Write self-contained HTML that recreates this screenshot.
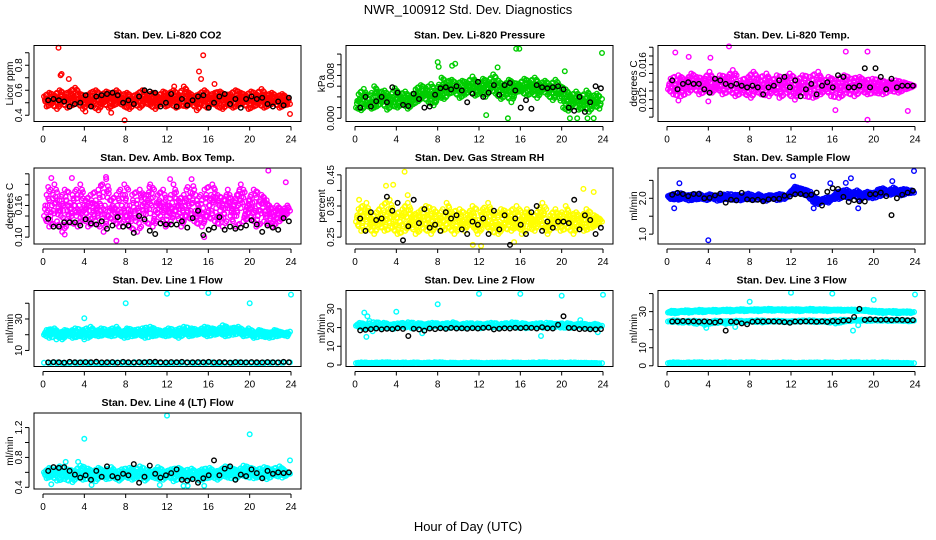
<!DOCTYPE html>
<html><head><meta charset="utf-8">
<style>
html,body{margin:0;padding:0;background:#fff;}
svg{display:block;font-family:"Liberation Sans",Arial,sans-serif;}
</style></head>
<body>
<svg id="c" width="936" height="540" viewBox="0 0 936 540" xmlns="http://www.w3.org/2000/svg">
<text x="468" y="14" text-anchor="middle" font-size="13">NWR_100912  Std. Dev. Diagnostics</text>
<text x="468" y="531" text-anchor="middle" font-size="13">Hour of Day (UTC)</text>
</svg>
<script>
// ---- data ----
const hourTicks = [0,4,8,12,16,20,24];

const co2Cloud = [0.55,0.47,0.58,0.49,0.56,0.45,0.6,0.5,0.57,0.46,0.59,0.48,0.62,0.5,0.57,0.45,0.55,0.49,0.58,0.47,0.6,0.44,0.56,0.5,0.59,0.46,0.57,0.48,0.6,0.5,0.56,0.47,0.58,0.45,0.55,0.49,0.57,0.46,0.6,0.5,0.56,0.48,0.58,0.45,0.55,0.5,0.59,0.47,0.57,0.49,0.6,0.46,0.56,0.48,0.63,0.47,0.58,0.5,0.55,0.44,0.57,0.49,0.6,0.46,0.56,0.5,0.58,0.47,0.59,0.45,0.56,0.49,0.57,0.46,0.6,0.48,0.58,0.5,0.56,0.45,0.59,0.47,0.57,0.49,0.61,0.46,0.56,0.48,0.58,0.5,0.55,0.46,0.57,0.48,0.54,0.49];
const co2Outliers = [[1.5,0.94],[1.7,0.72],[1.8,0.73],[2.5,0.69],[15.5,0.88],[15.1,0.75],[15.3,0.69],[16.6,0.65],[7.9,0.36],[12.7,0.63],[23.9,0.41],[4.1,0.43],[6.6,0.42]];
const co2Black = [0.52,0.53,0.52,0.51,0.47,0.49,0.5,0.56,0.47,0.55,0.56,0.57,0.58,0.56,0.5,0.52,0.49,0.55,0.6,0.59,0.58,0.47,0.5,0.57,0.47,0.53,0.48,0.52,0.55,0.56,0.46,0.5,0.55,0.57,0.49,0.53,0.46,0.53,0.55,0.53,0.54,0.49,0.47,0.51,0.48,0.54];

const presCloudMilli = [2,4.5,1.5,5.5,2.5,3.5,1.8,6,2.2,4.8,3,5.2,1.6,4,2.4,5.6,2,4.4,2.8,5,1.8,3.8,2.6,5.4,3.2,6.2,4,5.6,3,6.4,2.4,5,4,7.6,3.6,6.8,4.6,7.2,5,6.4,3.8,7,4.4,6.6,5.2,7.8,4.2,6.2,4.8,7.4,4,6.8,5.4,8.2,4.6,7,3.6,6,4.4,7.2,3,6.6,5,6.4,5,7.4,4.2,6.8,4.8,7.6,3.8,6.4,5.2,7,4.4,6.2,3.4,7.2,4.6,6,2,5.4,1.4,4.2,2.6,5,1.6,3.8,2.2,5.2,1.2,4,2.4,4.6,1.8,3.6];
const presOutliersMilli = [[8,10.5],[8.1,9.6],[9.4,9.8],[9.7,10.2],[15.6,13],[15.9,13],[23.9,12.2],[14.8,0],[20.8,0],[21.5,0],[22.5,0],[23.1,0],[13.8,9.5],[20.3,8.8],[12.7,0.6]];
const presBlackMilli = [2,4,2.2,3.2,4,3,5.8,4.8,2.5,2.3,4.6,3.6,2,2.2,4.4,5.6,5.8,5.4,6,5.2,3,4.6,6.8,4,4.8,6.2,4.4,6.2,6.6,5.2,2,3.4,1.8,6.2,5.8,5.6,5.8,6,5.4,2,1.4,4,1.2,3,6,5.6];

const tempCloudMilli = [13.2,14.4,12.6,13.8,14.8,12.4,13.6,14.2,12.8,15,13.4,14.6,12.6,13.6,14.4,13,15.2,12.8,14,13.4,14.8,12.6,13.8,14.6,13,15.4,12.4,13.6,14.2,12.8,13.4,14.6,12.2,15.2,13,14.4,12.6,13.8,15,12.4,14,13.2,14.8,12.2,13.6,14.4,12.8,15,13.4,12,14.2,13,14.8,12.4,13.6,14.6,12.2,13.8,15.2,12.6,14,13.2,14.6,12.4,13.8,14.2,12.2,13.4,14.8,12.8,13.6,14.4,12.4,13.8,14.6,13,14.2,12.6,13.6,14.4,12.8,13.2,14.2,12.6,13.8,14,13,13.6,14.2,12.8,13.4,14,13.2,13.8,13.4,13.6];
const tempOutliersMilli = [[0.8,17.4],[2.1,16.9],[6.0,18.1],[4.2,16.8],[17.3,17.5],[19.4,17.5],[19.4,9.7],[23.3,10.7],[16.3,10.8],[4.0,11.8],[1.1,11.9]];
const tempBlackMilli = [14.2,13.2,13.8,14,13.8,13.8,13.2,12.8,14.4,14.2,13.8,13.6,13.8,13.6,13.4,13.6,13.4,12.6,13.4,13.6,14.2,14.6,13.4,14.2,12.4,13.2,13.8,12.6,13.6,14,13.4,14.8,14.6,13.4,13.4,13.6,15.6,13.4,15.6,14.6,13.2,14.4,13.4,13.6,13.6,13.6];

const ambCloudCenti = [14,18,12,16,20,13,17,11,19,15,13,18,16,12,20,14,17,12,18,15,13,19,16,11,21,14,17,13,18,12,16,20,14,12,18,15,11,19,16,13,17,20,12,15,18,14,19,12,16,13,20,15,17,12,18,14,16,21,13,17,15,12,19,14,16,20,13,18,15,12,17,19,14,16,12,18,20,13,15,17,14,19,12,16,18,13,17,15,12,14,16,13,15,14,16,15];
const ambOutliersCenti = [[0.8,21.2],[0.5,19.5],[2.8,21.2],[6.1,21.4],[12.3,21],[21.8,22.6],[23.5,20.4],[7.1,9.3],[15.6,10],[2.1,10.5],[5.6,19.8],[10.3,19.5]];
const ambBlackCenti = [13.5,12,12,12.8,12.8,12.8,12.2,13.4,12.6,12.4,13,11.6,12.2,13.8,12,12.2,10.8,14,13.4,11.2,10.6,12.6,12.4,12.4,12.4,13,11.8,13.6,15,10.4,11.4,11.8,13.8,11.4,12,11.6,11.8,12.2,13.2,12.4,11,12.2,11.8,11.4,13.6,13];

const rhCloudCenti = [30,34,27,32,36,28,31,26,33,29,35,27,31,37,28,32,26,30,34,27,36,29,32,26,33,30,28,35,31,26,34,29,32,27,30,36,28,33,26,31,34,29,27,32,30,35,28,26,33,31,29,36,27,32,30,26,34,28,31,33,27,30,35,29,26,32,34,28,31,27,33,30,36,28,26,32,29,34,31,27,30,35,28,32,26,33,29,31,27,34,30,28,32,29,31,30];
const rhOutliersCenti = [[3,41.5],[3.7,41.8],[4.8,46],[12.2,22.2],[11.4,22.5],[22.1,40.5],[15.4,23.4],[0.4,37],[5.1,38.5],[23.1,39.5]];
const rhBlackCenti = [31,27,33,30.5,31,38,33.5,36,24,28.5,37,29.5,34,28,29,27,33,31,32,27.5,26,30,29,31,26,33.5,27.5,32,22.5,31,29,26,33,35,27,30,28,30,30,29.5,37,27.5,32,30.5,26,28];

const flowCloudCenti = [206,198,212,202,196,214,200,208,194,210,203,197,213,199,205,195,211,201,207,193,209,204,198,212,200,196,210,203,194,208,199,213,202,196,206,211,197,204,193,209,201,207,195,212,203,198,208,210,222,232,216,228,212,224,206,218,190,200,184,196,192,202,188,198,204,216,198,220,206,224,200,214,210,222,196,212,204,218,208,200,212,224,206,228,214,220,210,230,216,222,208,226,218,214,222,216];
const flowOutliersCenti = [[4,83],[1.2,242],[12.2,262],[15.8,242],[17.8,256],[18.5,172],[23.9,276],[0.7,172],[21.8,248],[14.2,172],[17.3,243]];
const flowBlackCenti = [210,215,212,206,212,212,200,201,208,213,188,196,194,215,197,195,196,192,197,198,199,207,205,211,212,209,210,216,180,218,228,226,204,190,195,192,191,211,212,216,206,153,200,210,216,221];

const line1Cloud = [20,23,18,22,24,19,21,17,23,20,22,18,24,20,19,23,21,18,25,20,22,19,24,21,20,23,19,22,25,20,21,18,24,22,19,23,21,20,24,18,22,25,19,21,23,20,22,19,24,21,20,23,18,22,25,21,19,24,22,20,23,21,25,19,22,24,20,23,21,26,19,22,24,20,23,25,21,19,22,24,20,18,21,23,19,22,20,18,21,23,19,22,20,21,19,22];
const line1Low = [2.2,1.8,2.4,2,1.6,2.3,1.9,2.5,2.1,1.7,2.2,2,2.4,1.8,2.1,2.3,1.9,2.2,2,2.4];
const line1Outliers = [[4,30.5],[4,17],[8,40],[12,46],[16,46.5],[20,40],[24,45.5],[1.3,17]];
const line1Black = [2.4,2.6,2.5,2.3,2.7,2.5,2.4,2.6,2.5,2.8,2.4,2.5,2.6,2.3,2.7,2.5,2.4,2.6,2.5,2.7,2.8,2.5,2.4,2.6,2.5,2.7,2.4,2.5,2.6,2.5,2.7,2.4,2.6,2.5,2.3,2.6,2.5,2.4,2.6,2.5,2.4,2.6,2.5,2.4,2.7,2.5];

const line2Cloud = [21,22.5,19.5,21.8,20.2,22.8,19.8,21.4,22.6,20,21.6,19.4,22.2,20.6,21.2,22.8,19.6,21,22.4,20.4,21.8,19.8,22.6,20.8,21.4,22,19.6,21.2,22.8,20.2,21.6,19.8,22.4,20.6,21,22.2,19.6,21.8,20.4,22.6,21,19.8,22,20.8,21.4,22.8,20,21.2,22.4,19.6,21.6,20.6,22.2,21,19.8,22.6,20.4,21.8,22,20,21.2,22.4,19.8,21.6,20.6,22.2,21,19.6,21.4,22,20.2,21];
const line2Low = [1,1.4,0.6,1.2,0.8,1.5,0.7,1.1,1.3,0.5,1,1.4,0.8,1.2,0.6,1.5,1,0.7,1.3,0.9,1.1,0.6,1.4,1,0.8,1.2,0.5,1.3,1.1,0.7,1.4,0.9,1,1.2,0.6,1.5,0.8,1.1,1.3,0.7,1,1.4,0.6,1.2,0.9,1.1,0.8,1];
const line2Outliers = [[0.9,28],[1.2,26],[1.4,23.5],[1.1,15],[4,28.5],[8,32.5],[12,38],[16,38],[20,37],[24,37.5],[18,15.5],[21.8,24],[23.5,17.5],[6.5,17],[1.7,18]];
const line2Black = [18.5,18.8,19.2,19.5,19,19.4,19.2,19.6,19.3,15.5,19.4,19,18.4,19.5,19.2,19.6,19.3,19.8,19.5,19.6,19.4,19.7,19.5,19.8,20,19,19.4,19.6,19.5,19.8,19.7,20,19.8,19.5,20.2,19.6,19.5,21.5,26,19.8,19.7,19.2,19.3,19.1,19,19.2];

const line3Top = [29.5,30.5,29,30.2,29.8,30.8,29.4,30.4,30,31,29.6,30.6,30.2,31,29.8,30.8,30.4,31.2,30,30.8,30.6,31.4,30.2,31,30.6,31.4,30.2,31.2,30.8,31.6,30.4,31.2,30.8,31.4,30.4,31.2,30.6,31.4,30.2,31,30.8,31.6,30.4,31.2,30.6,31.4,30.2,31,30.8,31.2,30.4,31,30.6,31.2,30.2,30.8,30.6,31,30,30.6,29.6,30.4,29.2,30.2,29.6,30.4,29,30,29.4,30.2,29.2,29.8];
const line3Mid = [24.5,25.2,24,24.8,23.8,25,24.4,22.6,24.2,25,24.6,23.2,24.4,25,24.2,24.8,24.4,25.2,24,24.6,24.8,25,24.2,24.6,24.4,25,24.6,25.2,24.2,24.8,24.4,25,23.4,25.6,24.6,25.2,25,25.6,24.8,25.4,25,25.6,24.8,25.4,25,25.2,24.6,25];
const line3Low = [1.5,1.9,1.2,1.7,1.4,2,1.3,1.6,1.8,1.1,1.5,1.9,1.3,1.7,1.2,2,1.5,1.3,1.8,1.4,1.6,1.2,1.9,1.5,1.3,1.7,1.1,1.8,1.6,1.2,1.9,1.4,1.5,1.7,1.2,2,1.3,1.6,1.8,1.2,1.5,1.9,1.2,1.7,1.4,1.6,1.3,1.5];
const line3Outliers = [[8,35.5],[12,40.5],[16,40],[20,36.5],[24,39.5],[18,19.5],[18.5,22.5],[3.8,21],[6.6,21.5]];
const line3Black = [24.5,24.6,24.8,24.5,24.7,24.4,24.6,24.3,24,24.6,19.5,24.5,24.2,23.5,23,24.4,24.6,24.5,24.7,24.5,24.4,24.2,23.8,24.5,24.4,24.6,24.5,24.4,24.6,24.3,24.8,24.6,25,25.2,27,31.5,25.4,25.8,25.6,25.4,25.6,25.3,25.5,25.4,25.2,25.3];

const line4CloudCenti = [60,52,66,55,63,49,68,57,51,64,58,47,62,54,69,50,59,65,53,61,48,66,56,62,51,57,67,53,60,49,64,55,58,66,50,62,54,68,57,49,63,55,60,52,67,58,50,61,56,64,48,59,66,53,62,57,51,65,55,60,49,64,58,52,66,54,61,50,63,56,68,53,59,65,51,62,57,69,54,60,66,52,63,58,55,67,51,61,64,56,59,68,53,62,60,58];
const line4OutliersCenti = [[4,105],[12,136],[20,111],[0.8,44],[4.7,43],[11.3,43],[13.6,42],[14,42],[15.6,42],[23.9,76],[2.2,74],[3.4,74]];
const line4BlackCenti = [62,67,66,67,62,57,53,56,50,62,54,68,55,53,58,56,71,46,54,69,58,53,56,59,64,50,49,51,46,52,56,76,56,65,68,50,57,55,64,59,52,62,58,60,59,60];

// ---- panel configuration (scales) ----
const RED="#FF0000",GRN="#00CD00",MAG="#FF00FF",YEL="#FFFF00",BLU="#0000FF",CYA="#00FFFF";
const panels = [
 {id:"co2",col:0,row:0,title:"Stan. Dev. Li-820 CO2",ylab:"Licor ppm",ymin:0.35,ymax:0.958,ticks:[0.4,0.5,0.6,0.7,0.8,0.9],labels:["0.4",null,"0.6",null,"0.8",null],k:1,
  clouds:[co2Cloud],outl:co2Outliers,black:co2Black,color:RED},
 {id:"pressure",col:1,row:0,title:"Stan. Dev. Li-820 Pressure",ylab:"kPa",ymin:-0.0006,ymax:0.0136,ticks:[0,0.002,0.004,0.006,0.008,0.010,0.012],labels:["0.000",null,null,null,"0.008",null,null],k:0.001,
  clouds:[presCloudMilli],outl:presOutliersMilli,black:presBlackMilli,color:GRN},
 {id:"licor-temp",col:2,row:0,title:"Stan. Dev. Li-820 Temp.",ylab:"degrees C",ymin:0.0095,ymax:0.0182,ticks:[0.010,0.011,0.012,0.013,0.014,0.015,0.016,0.017,0.018],labels:[null,null,"0.012",null,null,null,"0.016",null,null],k:0.001,
  clouds:[tempCloudMilli],outl:tempOutliersMilli,black:tempBlackMilli,color:MAG},
 {id:"amb-temp",col:0,row:1,title:"Stan. Dev. Amb. Box Temp.",ylab:"degrees C",ymin:0.087,ymax:0.231,ticks:[0.10,0.12,0.14,0.16,0.18,0.20,0.22],labels:["0.10",null,null,"0.16",null,null,null],k:0.01,
  clouds:[ambCloudCenti],outl:ambOutliersCenti,black:ambBlackCenti,color:MAG},
 {id:"rh",col:1,row:1,title:"Stan. Dev. Gas Stream RH",ylab:"percent",ymin:0.228,ymax:0.472,ticks:[0.25,0.30,0.35,0.40,0.45],labels:["0.25",null,"0.35",null,"0.45"],k:0.01,
  clouds:[rhCloudCenti],outl:rhOutliersCenti,black:rhBlackCenti,color:YEL},
 {id:"sample-flow",col:2,row:1,title:"Stan. Dev. Sample Flow",ylab:"ml/min",ymin:0.725,ymax:2.845,ticks:[1.0,1.5,2.0,2.5],labels:["1.0",null,"2.0",null],k:0.01,
  clouds:[flowCloudCenti],outl:flowOutliersCenti,black:flowBlackCenti,color:BLU},
 {id:"line1",col:0,row:2,title:"Stan. Dev. Line 1 Flow",ylab:"ml/min",ymin:-0.2,ymax:48.1,ticks:[10,20,30,40],labels:["10",null,"30",null],k:1,
  clouds:[line1Cloud,line1Low],outl:line1Outliers,black:line1Black,color:CYA},
 {id:"line2",col:1,row:2,title:"Stan. Dev. Line 2 Flow",ylab:"ml/min",ymin:-0.8,ymax:39.8,ticks:[0,10,20,30],labels:["0","10","20","30"],k:1,
  clouds:[line2Cloud,line2Low],outl:line2Outliers,black:line2Black,color:CYA},
 {id:"line3",col:2,row:2,title:"Stan. Dev. Line 3 Flow",ylab:"ml/min",ymin:-0.4,ymax:41.7,ticks:[0,10,20,30,40],labels:["0","10",null,"30",null],k:1,
  clouds:[line3Top,line3Mid,line3Low],outl:line3Outliers,black:line3Black,color:CYA},
 {id:"line4",col:0,row:3,title:"Stan. Dev. Line 4 (LT) Flow",ylab:"ml/min",ymin:0.377,ymax:1.395,ticks:[0.4,0.6,0.8,1.0,1.2],labels:["0.4",null,"0.8",null,"1.2"],k:0.01,
  clouds:[line4CloudCenti],outl:line4OutliersCenti,black:line4BlackCenti,color:CYA}
];

const NS="http://www.w3.org/2000/svg";
const svg=document.getElementById("c");
const rowTops=[45.5,168,290.5,413];
const BOXH=76;
function el(tag,attrs,parent){const e=document.createElementNS(NS,tag);for(const a in attrs)e.setAttribute(a,attrs[a]);(parent||svg).appendChild(e);return e;}

panels.forEach(p=>{
  const ox=p.col*312, top=rowTops[p.row], bot=top+BOXH, left=ox+34, right=ox+301;
  const g=el("g",{});
  
  
  const xS=h=>ox+43+h*(248/24);
  const yS=v=>bot-(v-p.ymin)/(p.ymax-p.ymin)*BOXH;
  const t=el("text",{x:(left+right)/2,y:top-7,"text-anchor":"middle","font-size":"10.5","font-weight":"bold"},g);
  t.textContent=p.title;
  
  
  const yl=el("text",{x:0,y:0,"text-anchor":"middle","font-size":"10",transform:`translate(${ox+13},${(top+bot)/2}) rotate(-90)`},g);
  yl.textContent=p.ylab;
  
  
  const pts=el("g",{fill:"none","stroke-width":"1.4"},g);
  
  
  const dot=(h,v,col)=>{
    const c=el("circle",{cx:xS(h).toFixed(1),cy:yS(v).toFixed(1),r:2.3,stroke:col},pts);
    
    
  };
  p.clouds.forEach(arr=>{
    const n=arr.length, step=23.8/(n-1);
    arr.forEach((v,i)=>dot(0.1+i*step,v*p.k,p.color));
    // fill the scatter cloud between neighbouring readings
    [1,2,3].forEach(j=>{
      arr.forEach((v,i)=>{ if(i+j<n){
        dot(0.1+(i+j/2)*step,((v+arr[i+j])/2)*p.k,p.color);
        dot(0.1+(i+j/3)*step,((2*v+arr[i+j])/3)*p.k,p.color);
      }});
    });
  });
  p.outl.forEach(o=>dot(o[0],o[1]*p.k,p.color));
  const nb=p.black.length;
  p.black.forEach((v,i)=>dot(0.5+i*23.3/(nb-1),v*p.k,"#000"));
  const box=el("rect",{x:left,y:top,width:right-left,height:BOXH,fill:"none",stroke:"#000","stroke-width":"1"},g);
  
  
  const xa=el("g",{},g);
  
  
  el("line",{x1:xS(0),x2:xS(24),y1:bot+5,y2:bot+5,stroke:"#000"},xa);
  hourTicks.forEach(h=>{
    el("line",{x1:xS(h),x2:xS(h),y1:bot+5,y2:bot+9,stroke:"#000"},xa);
    const tl=el("text",{x:xS(h),y:bot+21,"text-anchor":"middle","font-size":"10"},xa);
    tl.textContent=h;
    
    
  });
  const ya=el("g",{},g);
  
  
  const y0=yS(p.ticks[0]), y1=yS(p.ticks[p.ticks.length-1]);
  el("line",{x1:left-5,x2:left-5,y1:y0,y2:y1,stroke:"#000"},ya);
  p.ticks.forEach((v,i)=>{
    el("line",{x1:left-9,x2:left-5,y1:yS(v),y2:yS(v),stroke:"#000"},ya);
    if(p.labels[i]!==null){
      const yt=el("text",{x:0,y:0,"text-anchor":"middle","font-size":"10",transform:`translate(${left-12},${yS(v)}) rotate(-90)`},ya);
      yt.textContent=p.labels[i];
      
      
    }
  });
});
</script>
</body></html>
